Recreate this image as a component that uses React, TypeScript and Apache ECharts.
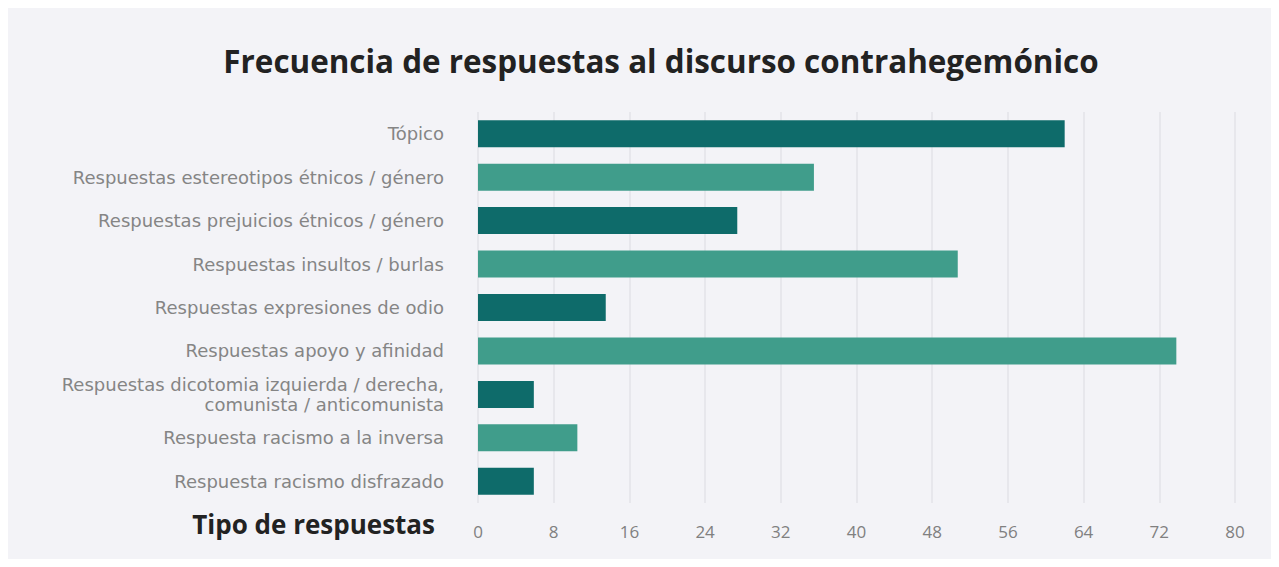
import React, { useEffect, useRef } from "react";
import * as echarts from "echarts";

const categories = [
  "Tópico",
  "Respuestas estereotipos étnicos / género",
  "Respuestas prejuicios étnicos / género",
  "Respuestas insultos / burlas",
  "Respuestas expresiones de odio",
  "Respuestas apoyo y afinidad",
  "Respuestas dicotomia izquierda / derecha,\ncomunista / anticomunista",
  "Respuesta racismo a la inversa",
  "Respuesta racismo disfrazado",
];
const values = [62, 35.5, 27.4, 50.7, 13.5, 73.8, 5.9, 10.5, 5.9];
const barColors = ["#0e6b6a", "#409d8b"];
const xTicks = { min: 0, max: 80, interval: 8 };
const titleText = "Frecuencia de respuestas al discurso contrahegemónico";
const axisTitle = "Tipo de respuestas";

export default function App() {
  const ref = useRef<HTMLDivElement>(null);
  useEffect(() => {
    document.body.style.margin = "8px";
    const chart = echarts.init(ref.current!, null, { renderer: "svg" });
    chart.setOption({
      animation: false,
      backgroundColor: "#f3f3f7",
      title: {
        text: titleText,
        left: 648,
        top: 32,
        textAlign: "center",
        textStyle: {
          fontFamily: "Open Sans",
          fontWeight: "bold",
          fontSize: 31.4,
          color: "#222222",
        },
      },
      graphic: [
        {
          type: "text",
          right: 836,
          top: 503,
          style: {
            text: axisTitle,
            font: "bold 26px 'Open Sans'",
            fill: "#222222",
          },
        },
      ],
      grid: { left: 470, right: 36, top: 104, bottom: 56 },
      xAxis: {
        type: "value",
        min: xTicks.min,
        max: xTicks.max,
        interval: xTicks.interval,
        axisLine: { show: false },
        axisTick: { show: false },
        axisLabel: {
          margin: 20,
          color: "#808080",
          fontFamily: "Open Sans",
          fontSize: 17,
        },
        splitLine: { lineStyle: { color: "#e3e3e9", width: 1.5 } },
      },
      yAxis: {
        type: "category",
        inverse: true,
        data: categories,
        axisLine: { show: false },
        axisTick: { show: false },
        axisLabel: {
          margin: 34,
          color: "#858585",
          fontFamily: "DejaVu Sans",
          fontSize: 18,
          lineHeight: 20,
          align: "right",
        },
      },
      series: [
        {
          type: "bar",
          barWidth: 27,
          data: values.map((v, i) => ({
            value: v,
            itemStyle: { color: barColors[i % 2] },
          })),
        },
      ],
    });
    return () => chart.dispose();
  }, []);
  return <div ref={ref} style={{ width: 1263, height: 551 }} />;
}
